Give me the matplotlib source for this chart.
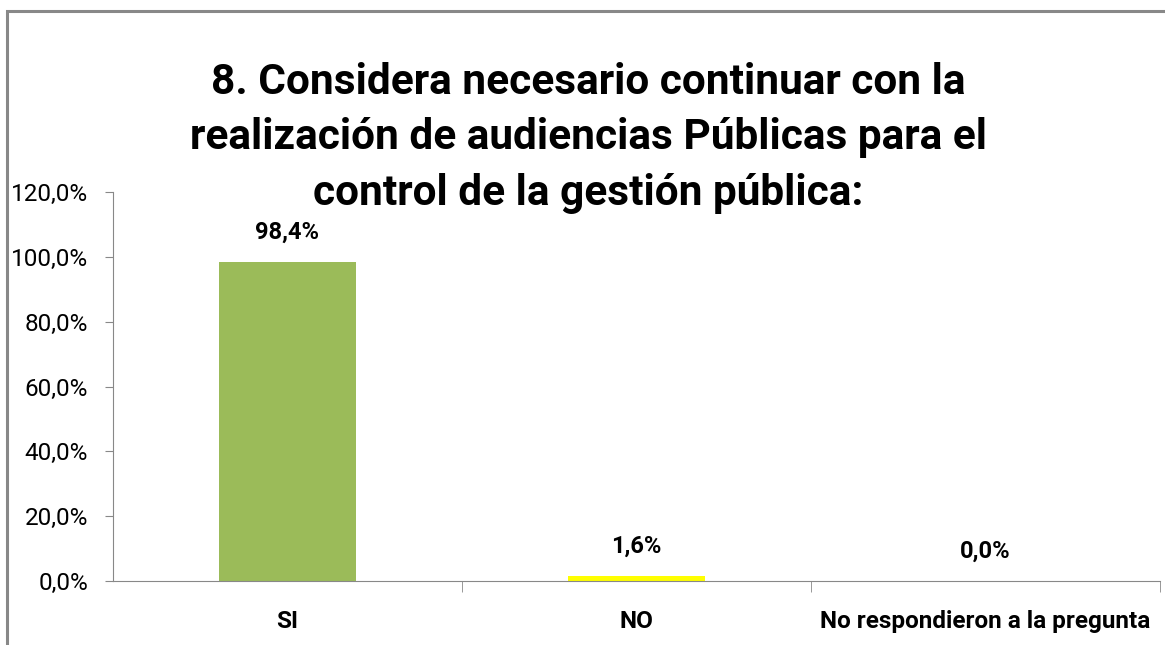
import matplotlib
matplotlib.use("Agg")
import matplotlib.pyplot as plt
from matplotlib.patches import Rectangle
from matplotlib.ticker import FuncFormatter, MultipleLocator

categories = ["SI", "NO", "No respondieron a la pregunta"]
values = [98.4, 1.6, 0.0]
bar_colors = ["#9BBB59", "#FFFF00", "#4F81BD"]
title = ("8. Considera necesario continuar con la\n"
         "realización de audiencias Públicas para el\n"
         "control de la gestión pública:")

plt.rcParams["font.family"] = ["Roboto", "DejaVu Sans"]


def pct(v):
    return f"{v:.1f}%".replace(".", ",")


fig = plt.figure(figsize=(11.65, 6.45), dpi=100)
ax = fig.add_axes([113 / 1165, 64 / 645, 1047 / 1165, 389 / 645])

# outer chart frame (right/bottom edges fall outside the picture)
fig.patches.append(Rectangle((7 / 1165, -0.1), 1.2, (645 - 11) / 645 + 0.1,
                             transform=fig.transFigure, fill=False,
                             edgecolor="#888888", linewidth=2.2))

x = range(len(categories))
ax.bar(x, values, width=0.39, color=bar_colors)
for xi, v in zip(x, values):
    ax.text(xi, v + 5.5, pct(v), ha="center", va="bottom",
            fontsize=17, fontweight="bold")

ax.set_xlim(-0.5, 2.5)
ax.set_ylim(0, 120)
ax.yaxis.set_major_locator(MultipleLocator(20))
ax.yaxis.set_major_formatter(FuncFormatter(lambda v, p: pct(v)))
ax.set_xticks(list(x))
ax.set_xticklabels(categories, fontsize=17.5, fontweight="bold")
ax.tick_params(axis="x", length=0, pad=21)
ax.set_xticks([0.5, 1.5, 2.5], minor=True)
ax.tick_params(axis="x", which="minor", length=8, color="#888888")
ax.tick_params(axis="y", length=6, color="#888888", labelsize=17.5, pad=12)

for s in ["top", "right"]:
    ax.spines[s].set_visible(False)
for s in ["left", "bottom"]:
    ax.spines[s].set_color("#888888")

fig.text(588 / 1165, 1 - 138 / 645, title, ha="center", va="center",
         fontsize=30.5, fontweight="bold", linespacing=1.45)

fig.savefig("out.png", dpi=100)
